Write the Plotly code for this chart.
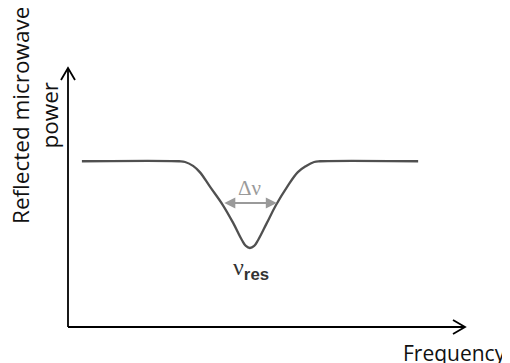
import plotly.graph_objects as go

# Data (arbitrary units)
freq = [0.35, 2.80, 2.95, 3.15, 3.32, 3.58, 3.90, 4.16, 4.38, 4.48, 4.58, 4.69, 4.79, 5.01, 5.24, 5.52, 5.79, 6.00, 6.20, 6.35, 8.82]
power = [6.40, 6.40, 6.37, 6.22, 5.98, 5.41, 4.71, 4.02, 3.36, 3.13, 3.05, 3.13, 3.36, 4.02, 4.71, 5.41, 5.98, 6.22, 6.37, 6.40, 6.40]

# Linewidth marker (Δν) and resonance position
fwhm_left = 3.90
fwhm_right = 5.26
fwhm_level = 4.79
nu_res = 4.62

x_title = "Frequency"
y_title = "Reflected microwave<br>power"

fig = go.Figure()
fig.add_trace(go.Scatter(
    x=freq, y=power, mode="lines",
    line=dict(color="#505050", width=2.3, shape="spline", smoothing=1.1),
    hoverinfo="skip", showlegend=False,
))

# Δν double arrow
fig.add_annotation(
    x=fwhm_right, y=fwhm_level, ax=fwhm_left, ay=fwhm_level,
    xref="x", yref="y", axref="x", ayref="y",
    text="", showarrow=True, arrowside="end+start",
    arrowhead=2, arrowsize=1.1, arrowwidth=2, arrowcolor="#9a9a9a",
)
fig.add_annotation(
    x=(fwhm_left + fwhm_right) / 2, y=fwhm_level, xref="x", yref="y",
    text="Δν", showarrow=False, yanchor="bottom", yshift=1,
    font=dict(family="Liberation Serif", size=21, color="#9a9a9a"),
)
fig.add_annotation(
    x=nu_res, y=3.05, xref="x", yref="y",
    text="ν<sub><b><span style='font-family:Liberation Sans'>res</span></b></sub>",
    showarrow=False, yanchor="top", yshift=-4,
    font=dict(family="Liberation Serif", size=24, color="#333333"),
)

# axis titles
fig.add_annotation(
    x=0, y=0.815, xref="paper", yref="paper", xshift=-33,
    xanchor="center", yanchor="middle",
    text=y_title, textangle=-90, showarrow=False,
    font=dict(family="Open Sans", size=22.5, color="#111111"),
)
fig.add_annotation(
    x=1, y=0, xref="paper", yref="paper", xanchor="left", yanchor="top",
    xshift=-64, yshift=-10,
    text=x_title, showarrow=False,
    font=dict(family="Open Sans", size=21, color="#111111"),
)

# axes with open arrow heads
axis_line = dict(color="black", width=1.8)
fig.add_shape(type="line", xref="paper", yref="paper", x0=0, y0=0, x1=1, y1=0, line=axis_line)
fig.add_shape(type="line", xref="paper", yref="paper", x0=0, y0=0, x1=0, y1=1, line=axis_line)
fig.add_shape(type="path", xref="paper", yref="paper", xsizemode="pixel", ysizemode="pixel",
              xanchor=1, yanchor=0, path="M -12,7 L 0,0 L -12,-7", line=axis_line)
fig.add_shape(type="path", xref="paper", yref="paper", xsizemode="pixel", ysizemode="pixel",
              xanchor=0, yanchor=1, path="M -7,-12 L 0,0 L 7,-12", line=axis_line)

fig.update_xaxes(range=[0, 10], visible=False)
fig.update_yaxes(range=[0, 10], visible=False)
fig.update_layout(
    width=502, height=355,
    margin=dict(l=60, r=45, t=60, b=36, autoexpand=False),
    paper_bgcolor="white", plot_bgcolor="white",
    showlegend=False,
)
fig.write_html("out.html")
